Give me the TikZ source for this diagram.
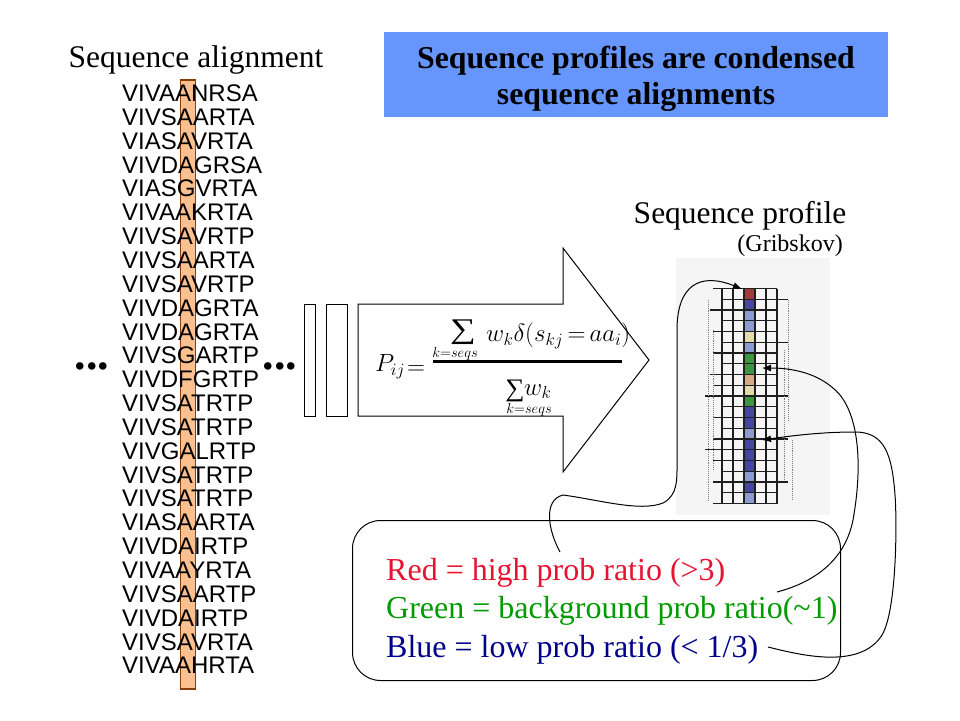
\documentclass[tikz,border=0pt]{standalone}
\usepackage{fontspec}
\usepackage{graphicx}
\setmainfont{Liberation Serif}
\newfontfamily\arialf{Liberation Sans}
\usetikzlibrary{arrows.meta}
\definecolor{titleblue}{RGB}{102,150,252}
\definecolor{colfill}{RGB}{250,192,143}
\definecolor{colborder}{RGB}{140,60,10}
\definecolor{profbg}{RGB}{245,245,245}
\definecolor{gridc}{RGB}{30,30,30}
\definecolor{cred}{RGB}{160,60,60}
\definecolor{cdb}{RGB}{70,70,160}
\definecolor{clb}{RGB}{140,155,210}
\definecolor{cbe}{RGB}{225,220,170}
\definecolor{cgr}{RGB}{60,150,65}
\definecolor{ctan}{RGB}{215,170,135}
\definecolor{lred}{RGB}{230,20,50}
\definecolor{lgreen}{RGB}{0,155,0}
\definecolor{lblue}{RGB}{0,0,140}
\begin{document}
\begin{tikzpicture}[x=1pt,y=-1pt,
  seq/.style={anchor=base west, inner sep=0pt, font=\arialf\fontsize{24}{24}\selectfont},
  heading/.style={anchor=base, inner sep=0pt, font=\fontsize{31.5}{31.5}\selectfont},
  titletxt/.style={anchor=base, inner sep=0pt, font=\bfseries\fontsize{31.8}{31.8}\selectfont},
  legendtxt/.style={anchor=base west, inner sep=0pt, font=\fontsize{32}{32}\selectfont},
  bigdots/.style={anchor=base, inner sep=0pt, font=\bfseries\fontsize{46}{46}\selectfont},
  frm/.style={inner sep=0pt},
  gridline/.style={line width=1.3pt, draw=gridc},
  link/.style={line width=1pt, -{Latex[length=9pt,width=7pt]}},
  cellbox/.style={draw=none, minimum width=11pt, minimum height=10.75pt, inner sep=0pt, anchor=north west}
]
\useasboundingbox (0,0) rectangle (960,720);
\fill[white] (0,0) rectangle (960,720);

% title box
\node[fill=titleblue, minimum width=504pt, minimum height=85pt, inner sep=0pt] (title) at (636,74.5) {};
\node[titletxt] (title1) at (636,68) {Sequence profiles are condensed};
\node[titletxt] (title2) at (636,104) {sequence alignments};

% headings
\node[heading] (hAlign) at (196,67) {Sequence alignment};
\node[heading] (hProf) at (740,223) {Sequence profile};
\node[anchor=base east, inner sep=0pt, font=\fontsize{24}{24}\selectfont] (hGrib) at (843,251) {(Gribskov)};

% alignment column
\node[draw=colborder, fill=colfill, line width=1.6pt, minimum width=15pt, minimum height=609pt, inner sep=0pt, anchor=north west] (column) at (179.5,79) {};

\foreach \s [count=\i] in {VIVAANRSA,VIVSAARTA,VIASAVRTA,VIVDAGRSA,VIASGVRTA,VIVAAKRTA,VIVSAVRTP,VIVSAARTA,VIVSAVRTP,VIVDAGRTA,VIVDAGRTA,VIVSGARTP,VIVDFGRTP,VIVSATRTP,VIVSATRTP,VIVGALRTP,VIVSATRTP,VIVSATRTP,VIASAARTA,VIVDAIRTP,VIVAAYRTA,VIVSAARTP,VIVDAIRTP,VIVSAVRTA,VIVAAHRTA}
  \node[seq] (row\i) at (122,{101.5+23.85*(\i-1)}) {\s};

\node[bigdots] (dotsL) at (92,369) {...};
\node[bigdots] (dotsR) at (280,369.5) {...};

% bars and arrow
\node[draw, line width=1pt, minimum width=11pt, minimum height=112pt, inner sep=0pt] (barA) at (309.5,360) {};
\node[draw, line width=1pt, minimum width=21pt, minimum height=112pt, inner sep=0pt] (barB) at (336.5,360) {};
\draw[line width=1pt, line join=miter] (358,304) -- (563,304) -- (563,248) -- (649,360) -- (563,472) -- (563,416) -- (358,416) -- cycle;

% formula
\node[frm, anchor=base west, font=\fontsize{23}{23}\selectfont] (fP) at (375,371.5) {$P_{ij}$};
\node[frm, anchor=base west, font=\fontsize{24}{24}\selectfont] (fEq) at (407,374) {$=$};
\draw[line width=3pt] (433,361) -- (622,361);
\node[frm, font=\fontsize{19}{19}\selectfont] (nSum) at (463,332) {\scalebox{1.9}[1.5]{∑}};
\node[frm, font=\fontsize{14}{14}\selectfont] (nLim) at (455,353.5) {$k{=}seqs$};
\node[frm, anchor=base west, font=\fontsize{23}{23}\selectfont] (nBody) at (486,341.5) {$w_k\delta(s_{kj}\,{=}\,aa_i)$};
\node[frm, font=\fontsize{18}{18}\selectfont] (dSum) at (515,391) {\scalebox{1.5}[1.4]{∑}};
\node[frm, anchor=base west, font=\fontsize{23}{23}\selectfont] (dBody) at (524,395) {$w_k$};
\node[frm, font=\fontsize{14}{14}\selectfont] (dLim) at (529,410) {$k{=}seqs$};

% profile
\node[fill=profbg, minimum width=154pt, minimum height=257pt, inner sep=0pt, anchor=north west] (profile) at (676,258) {};
\foreach \c [count=\i from 0] in {cred,cdb,clb,clb,cbe,clb,cgr,cgr,ctan,cbe,cgr,cdb,cdb,clb,cdb,cdb,cdb,clb,cdb,clb}
  \node[cellbox, fill=\c] (cell\i) at (744,{288.5+10.75*\i}) {};
\foreach \l/\r [count=\i from 0] in {713/777,722/788,710/777,722/777,713/778,722/788,713/777,722/777,710/778,713/777,705/788,722/777,713/778,722/777,713/788,705/777,713/778,722/777,713/788,722/777,713/777}
  \draw[gridline] (\l,{288.5+10.75*\i}) -- (\r,{288.5+10.75*\i});
\foreach \x in {722,733,744,755,766,777}
  \draw[gridline] (\x,288.5) -- (\x,503.5);
\foreach \x/\a/\b in {708/300/500,713/330/470,788/300/420,792/440/500,784/350/480}
  \draw[densely dotted, gray, line width=0.9pt] (\x,\a) -- (\x,\b);

% legend
\node[draw, rounded corners=28pt, line width=1pt, minimum width=488pt, minimum height=160pt, inner sep=0pt, anchor=north west] (legend) at (352,520) {};
\node[legendtxt, text=lred] (tRed) at (386,580) {Red = high prob ratio (>3)};
\node[legendtxt, text=lgreen] (tGreen) at (386,618) {Green = background prob ratio(\textasciitilde 1)};
\node[legendtxt, text=lblue] (tBlue) at (386,657) {Blue = low prob ratio (< 1/3)};

% connectors
\coordinate (c1a) at (560,552);
\coordinate (c1b) at (742,289);
\coordinate (c2a) at (777,592);
\coordinate (c2b) at (762,368);
\coordinate (c3a) at (768,647);
\coordinate (c3b) at (762,440);
\draw[link] (c1a) .. controls (548,530) and (543,500) .. (563,495) .. controls (600,500) and (640,512) .. (663,503) .. controls (678,495) and (677,480) .. (677,460) -- (677,330) .. controls (677,285) and (700,272) .. (c1b);
\draw[link] (c2a) .. controls (815,582) and (845,560) .. (853,520) .. controls (862,470) and (860,420) .. (840,395) .. controls (820,372) and (790,368) .. (c2b);
\draw[link] (c3a) .. controls (800,655) and (860,670) .. (882,635) .. controls (897,610) and (897,520) .. (895,495) .. controls (892,455) and (885,432) .. (855,432) .. controls (820,432) and (790,436) .. (c3b);
\end{tikzpicture}
\end{document}
